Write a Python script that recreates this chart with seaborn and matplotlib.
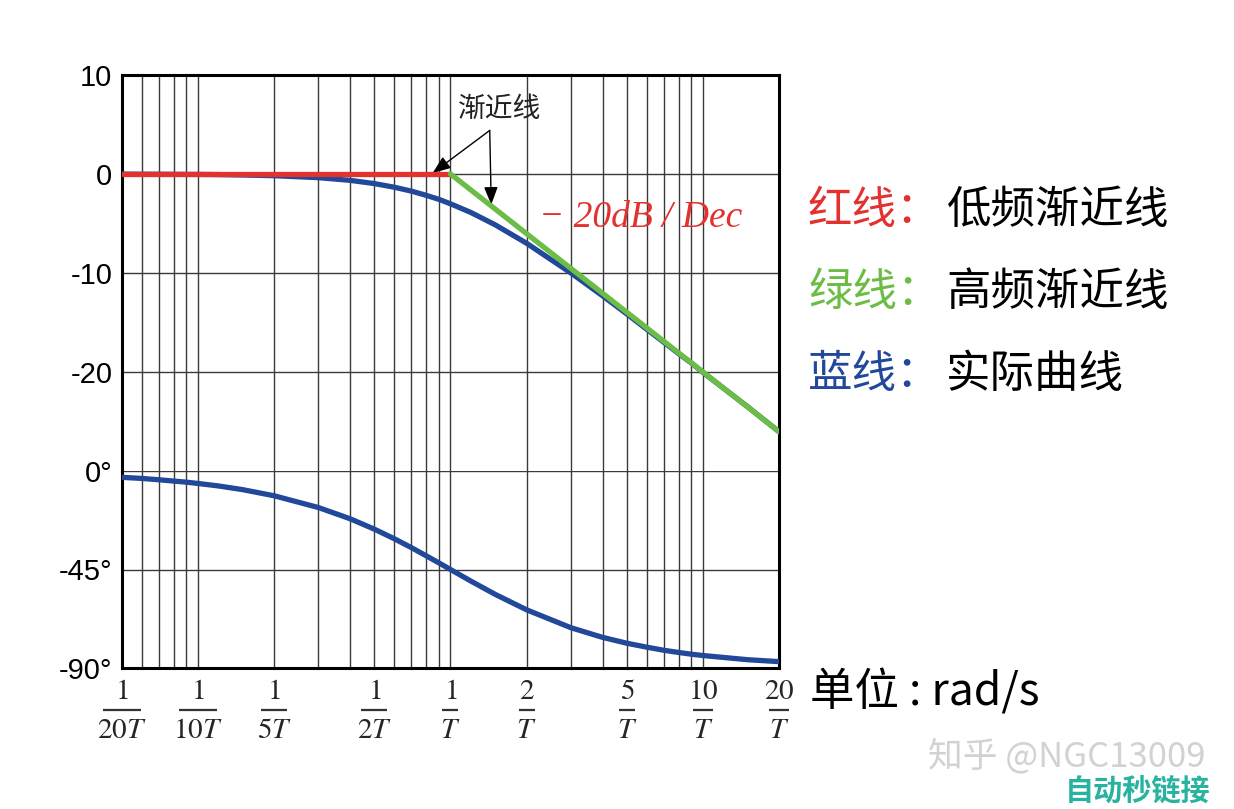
import numpy as np
import pandas as pd
import matplotlib
matplotlib.use("Agg")
import matplotlib.pyplot as plt
import matplotlib.transforms as mtrans
from matplotlib.ticker import FixedLocator, LogLocator, NullFormatter
import seaborn as sns

# ---------------- data ----------------
# normalised frequency omega*T
w = [0.05, 0.06, 0.07, 0.08, 0.09, 0.1, 0.12, 0.15, 0.2, 0.3, 0.4, 0.5, 0.6,
     0.7, 0.8, 0.9, 1.0, 1.2, 1.5, 2.0, 3.0, 4.0, 5.0, 6.0, 7.0, 8.0, 9.0,
     10.0, 15.0, 20.0]
mag_db = [-0.01, -0.02, -0.02, -0.03, -0.04, -0.04, -0.06, -0.1, -0.17, -0.37,
          -0.64, -0.97, -1.34, -1.73, -2.15, -2.56, -3.01, -3.87, -5.12, -6.99,
          -10.0, -12.3, -14.15, -15.7, -17.0, -18.13, -19.1, -20.04, -23.5, -26.03]
phase_deg = [-2.9, -3.4, -4.0, -4.6, -5.1, -5.7, -6.8, -8.5, -11.3, -16.7,
             -21.8, -26.6, -31.0, -35.0, -38.7, -42.0, -45.0, -50.2, -56.3,
             -63.4, -71.6, -76.0, -78.7, -80.5, -81.9, -82.9, -83.7, -84.3,
             -86.2, -87.1]
low_asym_w = [0.05, 1.0]
low_asym_db = [0.0, 0.0]
high_asym_w = [1.0, 20.0]
high_asym_db = [0.0, -26.02]

xtick_vals = [0.05, 0.1, 0.2, 0.5, 1.0, 2.0, 5.0, 10.0, 20.0]
xtick_num = ["1", "1", "1", "1", "1", "2", "5", "10", "20"]
xtick_den = ["20", "10", "5", "2", "", "", "", "", ""]
mag_ticks = [10, 0, -10, -20]
mag_ticklabels = ["10", "0", "-10", "-20"]
phase_ticks = [0, -45, -90]
phase_ticklabels = ["0°", "-45°", "-90°"]

RED = "#e2312e"
GREEN = "#6cbd45"
BLUE = "#22489a"

sns.set_theme(style="white")
plt.rcParams["font.family"] = ["Liberation Sans", "DejaVu Sans"]
plt.rcParams["mathtext.fontset"] = "stix"

fig = plt.figure(figsize=(12.34, 8.09), dpi=100)
L, R = 122 / 1234, 779 / 1234
top_px, mid_px, bot_px = 75, 471, 668
ax_mag = fig.add_axes([L, 1 - mid_px / 809, R - L, (mid_px - top_px) / 809])
ax_ph = fig.add_axes([L, 1 - bot_px / 809, R - L, (bot_px - mid_px) / 809])

df_mag = pd.DataFrame({"w": w, "mag": mag_db})
df_ph = pd.DataFrame({"w": w, "phase": phase_deg})
df_low = pd.DataFrame({"w": low_asym_w, "db": low_asym_db})
df_high = pd.DataFrame({"w": high_asym_w, "db": high_asym_db})

LW = 3.8
sns.lineplot(data=df_mag, x="w", y="mag", ax=ax_mag, color=BLUE, lw=LW,
             sort=True, estimator=None, zorder=3)
sns.lineplot(data=df_low, x="w", y="db", ax=ax_mag, color=RED, lw=LW,
             estimator=None, zorder=4)
sns.lineplot(data=df_high, x="w", y="db", ax=ax_mag, color=GREEN, lw=LW,
             estimator=None, zorder=4)
sns.lineplot(data=df_ph, x="w", y="phase", ax=ax_ph, color=BLUE, lw=LW,
             sort=True, estimator=None, zorder=3)

for ax in (ax_mag, ax_ph):
    ax.set_xscale("log")
    ax.set_xlim(0.05, 20)
    ax.xaxis.set_major_locator(LogLocator(base=10, subs=np.arange(1, 10)))
    ax.xaxis.set_minor_locator(FixedLocator([]))
    ax.xaxis.set_major_formatter(NullFormatter())
    ax.grid(True, which="major", axis="both", color="#3a3a3a", lw=1.0)
    ax.set_xlabel("")
    ax.set_ylabel("")
    ax.tick_params(axis="both", length=0, labelsize=21, colors="black", pad=7)
    for s in ax.spines.values():
        s.set_color("black")
        s.set_linewidth(2.2)
    ax.set_facecolor("white")

ax_mag.set_ylim(-30, 10)
ax_mag.set_yticks(mag_ticks)
ax_mag.set_yticklabels(mag_ticklabels)
ax_mag.spines["bottom"].set_visible(False)

ax_ph.set_ylim(-90, 0)
ax_ph.set_yticks(phase_ticks)
ax_ph.set_yticklabels(phase_ticklabels)
ax_ph.spines["top"].set_visible(False)

# fraction tick labels below the axis
blend = mtrans.blended_transform_factory(ax_ph.transData, ax_ph.transAxes)
for xv, num, den in zip(xtick_vals, xtick_num, xtick_den):
    ax_ph.text(xv, -0.118, r"$\mathrm{%s}$" % num, transform=blend,
               ha="center", va="center", fontsize=21, clip_on=False)
    ax_ph.text(xv, -0.315, r"$\mathrm{%s}T$" % den, transform=blend,
               ha="center", va="center", fontsize=21, clip_on=False)
    if den:
        bar_w = 27 if len(den) == 2 else 19
    else:
        bar_w = 14.5 if len(num) == 2 else 11.5
    ax_ph.plot([xv], [-0.214], marker="_", markersize=bar_w, mew=1.6,
               color="#333333", transform=blend, clip_on=False)

# annotations inside the plot
cjk = ["Noto Sans CJK SC", "DejaVu Sans"]
serif = ["Liberation Serif", "DejaVu Serif"]
ax_mag.text(1.57, 6.6, "渐近线", ha="center", va="center", fontsize=20,
            family=cjk, color="#222222")
arrow_kw = dict(arrowstyle="-|>,head_length=0.9,head_width=0.35", color="black",
                lw=1.0, shrinkA=0, shrinkB=0)
ax_mag.annotate("", xy=(0.85, 0.1), xytext=(1.43, 4.4), arrowprops=arrow_kw)
ax_mag.annotate("", xy=(1.45, -3.1), xytext=(1.43, 4.4), arrowprops=arrow_kw)
ax_mag.text(2.25, -4.4, "− 20dB / Dec", ha="left", va="center", fontsize=27,
            style="italic", family=serif, color=RED)

# legend-like text on the right
rows = [("红线：", RED, "低频渐近线", 210), ("绿线：", GREEN, "高频渐近线", 292),
        ("蓝线：", BLUE, "实际曲线", 374)]
for lab, col, desc, ypx in rows:
    fig.text(808 / 1234, 1 - ypx / 809, lab, color=col, fontsize=32,
             family=cjk, ha="left", va="center")
    fig.text(946 / 1234, 1 - ypx / 809, desc, color="black", fontsize=32,
             family=cjk, ha="left", va="center")

fig.text(810 / 1234, 1 - 692 / 809, "单位 : rad/s", color="black", fontsize=32,
         family=cjk, ha="left", va="center")

# watermark
fig.text(1205 / 1234, 1 - 757 / 809, "知乎 @NGC13009", color="#d2d2d2",
         fontsize=25, family=cjk, ha="right", va="center")
fig.text(1210 / 1234, 1 - 791 / 809, "自动秒链接", color="#27b39f",
         fontsize=21, weight="bold", style="italic", family=cjk,
         ha="right", va="center")

fig.savefig("out.png", dpi=100, facecolor="white")
